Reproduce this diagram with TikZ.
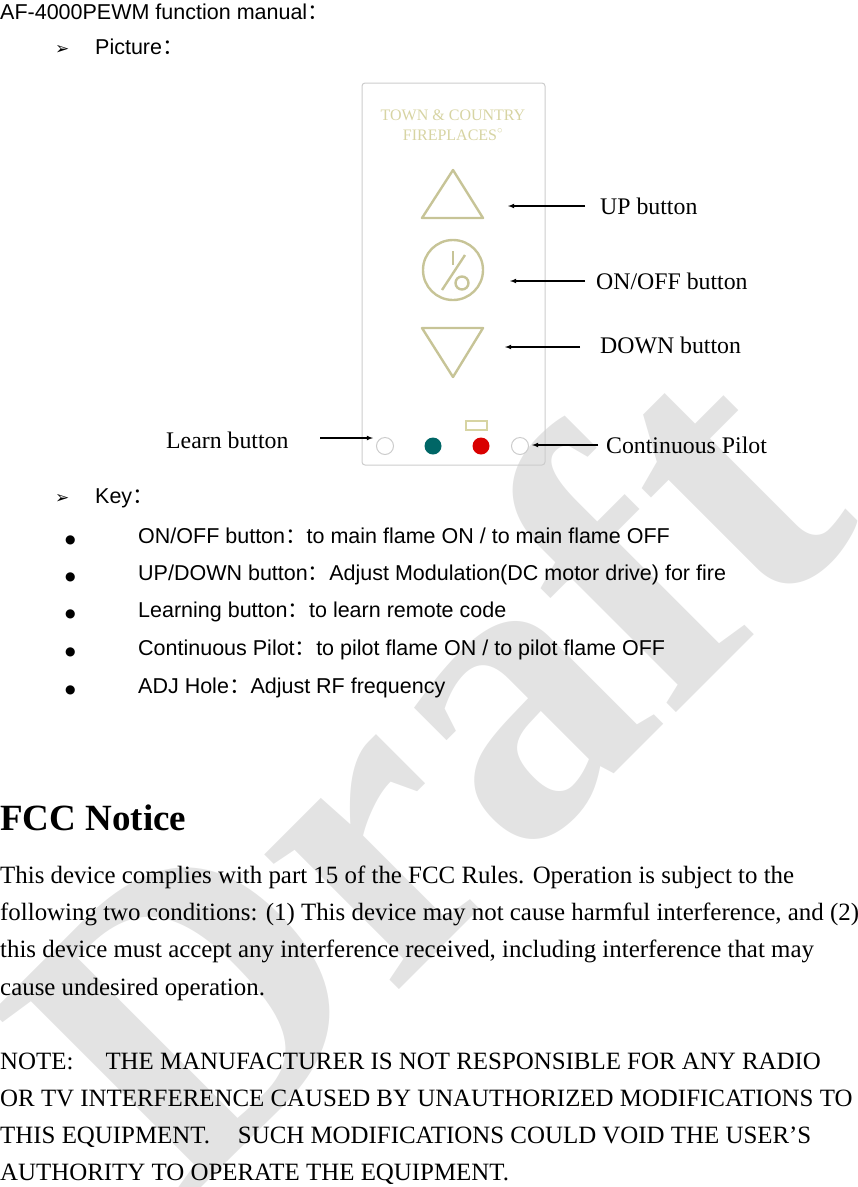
\documentclass[tikz,border=0pt]{standalone}
\usepackage{fontspec}
\setmainfont{Liberation Serif}
\newfontfamily\hsans{Liberation Sans}
\newfontfamily\djsym{DejaVu Sans}
\newfontfamily\cjk{Noto Sans CJK SC}
\begin{document}
\begin{tikzpicture}[x=1pt,y=-1pt,
  hd/.style={anchor=base west,inner sep=0pt,font=\hsans\fontsize{21.5}{24}\selectfont},
  bd/.style={anchor=base west,inner sep=0pt,font=\fontsize{24.9}{28}\selectfont},
  lab/.style={anchor=base west,inner sep=0pt,font=\fontsize{23.8}{26}\selectfont},
  arr/.style={-latex,line width=1.1pt},
  btn/.style={draw=black!15!yellow!40!gray!70,line width=2.4pt,line join=round}]
\useasboundingbox (0,0) rectangle (858,1187);
% watermark
\node[rotate=45,inner sep=0pt,font=\bfseries\fontsize{415}{415}\selectfont,text=gray!22] (wm) at (420,765) {Draft};
% header
\node[hd] (t1) at (0,19) {AF-4000PEWM function manual{\cjk ：}};
\node[hd,font=\djsym\fontsize{17}{20}\selectfont] (a1) at (55,54) {➢};
\node[hd] (t2) at (95,54) {Picture{\cjk ：}};
% device
\draw[gray!40,line width=1pt,rounded corners=3pt] (362,83) rectangle (545,465);
\node[font=\fontsize{16}{20}\selectfont,text=yellow!40!gray!60,align=center,inner sep=0pt] (brand) at (453,125) {TOWN \& COUNTRY\\FIREPLACES$^\circ$};
\draw[btn] (453,170) -- (483,218) -- (422,218) -- cycle;
\draw[btn] (453,270) circle (30);
\draw[btn] (453,251) -- (453,265);
\draw[btn] (465,255) -- (442,290);
\draw[btn] (462,283) circle (6.5);
\draw[btn] (422,328) -- (483,328) -- (453,377) -- cycle;
\node[circle,draw=gray!40,line width=1pt,minimum size=17pt,inner sep=0pt] (learn) at (385,446) {};
\node[circle,fill=teal!80!black,minimum size=17pt,inner sep=0pt] (g) at (433,446) {};
\node[circle,fill=red!85!black,minimum size=17pt,inner sep=0pt] (r) at (481,446) {};
\node[circle,draw=gray!40,line width=1pt,minimum size=17pt,inner sep=0pt] (cp) at (520,446) {};
\draw[yellow!40!gray!60,line width=1.2pt] (466,421) rectangle (487,430);
% labels and arrows
\node[lab] (up) at (600,214) {UP button};
\node[lab] (on) at (596,289) {ON/OFF button};
\node[lab] (dn) at (600,353) {DOWN button};
\node[lab] (cpl) at (606,453) {Continuous Pilot};
\node[lab] (lb) at (166,448) {Learn button};
\coordinate (upa) at (585,206); \coordinate (upb) at (508,206);
\coordinate (ona) at (585,281); \coordinate (onb) at (510,281);
\coordinate (dna) at (580,347); \coordinate (dnb) at (505,347);
\coordinate (cpa) at (598,445); \coordinate (cpb) at (532,445);
\coordinate (lba) at (320,438); \coordinate (lbb) at (373,438);
\draw[arr] (upa) -- (upb);
\draw[arr] (ona) -- (onb);
\draw[arr] (dna) -- (dnb);
\draw[arr] (cpa) -- (cpb);
\draw[arr] (lba) -- (lbb);
% key
\node[hd,font=\djsym\fontsize{17}{20}\selectfont] (a2) at (55,503) {➢};
\node[hd] (t3) at (95,503) {Key{\cjk ：}};
\foreach \y/\t [count=\i] in {543/{ON/OFF button{\cjk ：}to main flame ON / to main flame OFF},
  580/{UP/DOWN button{\cjk ：}Adjust Modulation(DC motor drive) for fire},
  617/{Learning button{\cjk ：}to learn remote code},
  655/{Continuous Pilot{\cjk ：}to pilot flame ON / to pilot flame OFF},
  693/{ADJ Hole{\cjk ：}Adjust RF frequency}}{
  \node[hd,font=\djsym\fontsize{12}{16}\selectfont] (b\i) at (65,\y) {●};
  \node[hd] (k\i) at (138,\y) {\t};
}
% FCC
\node[anchor=base west,inner sep=0pt,font=\bfseries\fontsize{37}{40}\selectfont] (fcc) at (0,830) {FCC Notice};
\node[bd] (p1) at (0,883) {This device complies with part 15 of the FCC Rules. Operation is subject to the};
\node[bd] (p2) at (0,920) {following two conditions: (1) This device may not cause harmful interference, and (2)};
\node[bd] (p3) at (0,957) {this device must accept any interference received, including interference that may};
\node[bd] (p4) at (0,995) {cause undesired operation.};
\node[bd] (n1) at (0,1069) {NOTE:\hspace{32pt}THE MANUFACTURER IS NOT RESPONSIBLE FOR ANY RADIO};
\node[bd] (n2) at (0,1106) {OR TV INTERFERENCE CAUSED BY UNAUTHORIZED MODIFICATIONS TO};
\node[bd] (n3) at (0,1143) {THIS EQUIPMENT.\hspace{28pt}SUCH MODIFICATIONS COULD VOID THE USER’S};
\node[bd] (n4) at (0,1180) {AUTHORITY TO OPERATE THE EQUIPMENT.};
\end{tikzpicture}
\end{document}
